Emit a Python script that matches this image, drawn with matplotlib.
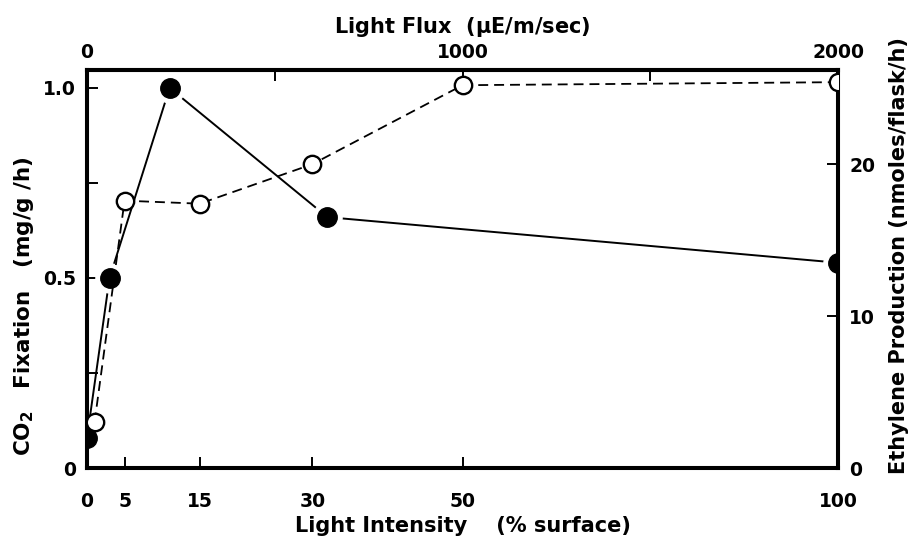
import numpy as np
import matplotlib
matplotlib.use("Agg")
import matplotlib.pyplot as plt

# values
intensity_co2 = [0, 3, 11, 32, 100]          # % surface, filled circles
co2_fixation = [0.08, 0.50, 1.00, 0.66, 0.54]  # mg/g/h

intensity_eth = [1, 5, 15, 30, 50, 100]      # % surface, open circles
ethylene = [3.0, 17.6, 17.4, 20.0, 25.2, 25.4]  # nmoles/flask/h

bottom_ticks = [0, 5, 15, 30, 50, 100]
left_ticks = [0, 0.25, 0.5, 0.75, 1.0]
left_labels = ["0", "", "0.5", "", "1.0"]
right_ticks = [0, 10, 20]
flux_ticks = [0, 500, 1000, 1500, 2000]
flux_labels = ["0", "", "1000", "", "2000"]

plt.rcParams['font.family'] = 'DejaVu Sans'
plt.rcParams['font.weight'] = 'bold'
plt.rcParams['mathtext.fontset'] = 'dejavusans'

fig = plt.figure(figsize=(9.13, 5.44), dpi=100)
ax = fig.add_axes([0.0953, 0.1397, 0.8227, 0.7316])
ax2 = ax.twinx()

ax.set_xlim(0, 100)
ax.set_ylim(0, 1.047)
ax2.set_ylim(0, 26.2)

# CO2 fixation: solid line, filled circles (white halo leaves a small gap)
ax.plot(intensity_co2, co2_fixation, color='black', lw=1.4, zorder=2)
ax.plot(intensity_co2, co2_fixation, ls='none', marker='o', ms=21,
        mfc='white', mec='white', zorder=3)
ax.plot(intensity_co2, co2_fixation, ls='none', marker='o', ms=14,
        mfc='black', mec='black', zorder=4)

# ethylene production: dashed line, open circles
ax2.plot(intensity_eth, ethylene, color='black', lw=1.3,
         ls=(0, (5.5, 3.3)), zorder=2)
ax2.plot(intensity_eth, ethylene, ls='none', marker='o', ms=12.5,
         mfc='white', mec='black', mew=1.7, zorder=4)

for a in (ax, ax2):
    for s in a.spines.values():
        s.set_linewidth(2.9)

ax.set_xticks(bottom_ticks)
ax.set_xticklabels([str(t) for t in bottom_ticks])
ax.set_yticks(left_ticks)
ax.set_yticklabels(left_labels)
ax2.set_yticks(right_ticks)
ax2.set_yticklabels([str(t) for t in right_ticks])

ax.tick_params(axis='both', direction='in', length=8, width=1.4,
               labelsize=13.5, pad=8)
ax.tick_params(axis='x', pad=17)
ax2.tick_params(axis='y', direction='in', length=8, width=1.4,
                labelsize=13.5, pad=8)

top = ax.secondary_xaxis('top', functions=(lambda x: x * 20, lambda x: x / 20))
top.set_xticks(flux_ticks)
top.set_xticklabels(flux_labels)
top.tick_params(direction='in', length=8, width=1.4, labelsize=13.5, pad=6)
top.spines['top'].set_linewidth(2.9)
top.set_xlabel(r"Light Flux  ($\mathbf{\mu}$E/m/sec)", fontsize=15,
               fontweight='bold', labelpad=7)

ax.set_xlabel("Light Intensity    (% surface)", fontsize=15, fontweight='bold',
              labelpad=4)
fig.text(0.026, 0.4375, r"$\mathbf{CO_2}$   Fixation   (mg/g /h)", rotation=90,
         fontsize=15.5, fontweight='bold', ha='center', va='center')
fig.text(0.985, 0.53, "Ethylene Production (nmoles/flask/h)", rotation=90,
         fontsize=15, fontweight='bold', ha='center', va='center')

fig.savefig("out.png", dpi=100)
